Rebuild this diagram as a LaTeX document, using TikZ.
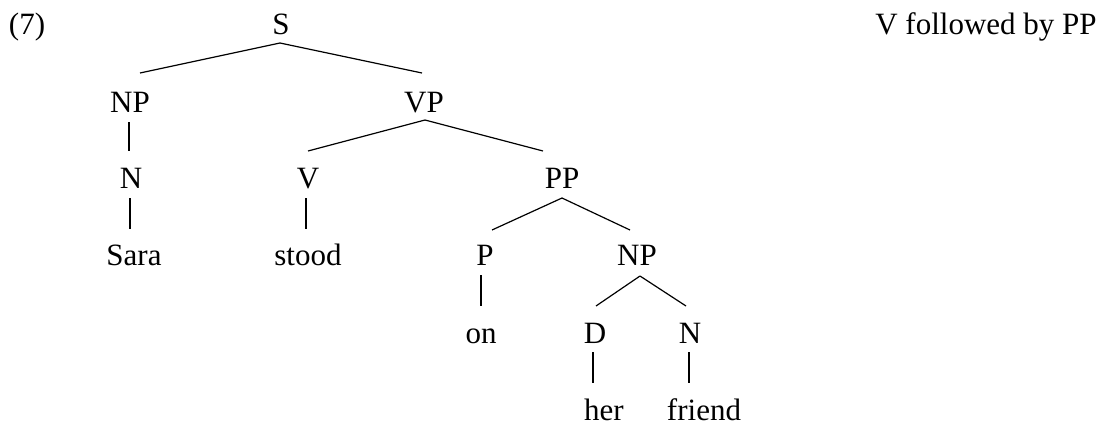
\documentclass[tikz,border=0pt]{standalone}
\usepackage{fontspec}
\setmainfont{Liberation Serif}
\usetikzlibrary{calc}
\begin{document}
\begin{tikzpicture}[x=1pt,y=-1pt,
  lab/.style={anchor=base,inner sep=0pt,font=\fontsize{31}{37}\selectfont},
  branch/.style={draw=black,line width=1.2pt}]
\useasboundingbox (0,0) rectangle (1106,424);
% labels
\node[lab] (ex) at (27,34) {(7)};
\node[lab] (title) at (986,34) {V followed by PP};
\node[lab] (s) at (281,34) {S};
\node[lab] (np1) at (130,112) {NP};
\node[lab] (vp) at (424,112) {VP};
\node[lab] (n1) at (131,188) {N};
\node[lab] (v) at (308,188) {V};
\node[lab] (pp) at (562,188) {PP};
\node[lab] (sara) at (134,265) {Sara};
\node[lab] (stood) at (308,265) {stood};
\node[lab] (p) at (485,265) {P};
\node[lab] (np2) at (637,265) {NP};
\node[lab] (on) at (481,343) {on};
\node[lab] (d) at (595,343) {D};
\node[lab] (n2) at (690,343) {N};
\node[lab] (her) at (604,420) {her};
\node[lab] (friend) at (704,420) {friend};
% branches
\path[branch] ($(s.base)+(-1,9)$) -- ($(np1.base)+(10,-39)$);
\path[branch] ($(s.base)+(-1,9)$) -- ($(vp.base)+(-2,-39)$);
\path[branch] ($(np1.base)+(-1,10)$) -- ($(n1.base)+(-2,-37)$);
\path[branch] ($(n1.base)+(-1,10)$) -- ($(sara.base)+(-4,-36)$);
\path[branch] ($(vp.base)+(1,8)$) -- ($(v.base)+(0,-37)$);
\path[branch] ($(vp.base)+(1,8)$) -- ($(pp.base)+(-19,-37)$);
\path[branch] ($(v.base)+(-2,10)$) -- ($(stood.base)+(-2,-36)$);
\path[branch] ($(pp.base)+(0,10)$) -- ($(p.base)+(7,-35)$);
\path[branch] ($(pp.base)+(0,10)$) -- ($(np2.base)+(-7,-35)$);
\path[branch] ($(p.base)+(-4,10)$) -- ($(on.base)+(0,-37)$);
\path[branch] ($(np2.base)+(3,11)$) -- ($(d.base)+(1,-37)$);
\path[branch] ($(np2.base)+(3,11)$) -- ($(n2.base)+(-4,-37)$);
\path[branch] ($(d.base)+(-2,9)$) -- ($(her.base)+(-11,-37)$);
\path[branch] ($(n2.base)+(-1,9)$) -- ($(friend.base)+(-15,-37)$);
\end{tikzpicture}
\end{document}
